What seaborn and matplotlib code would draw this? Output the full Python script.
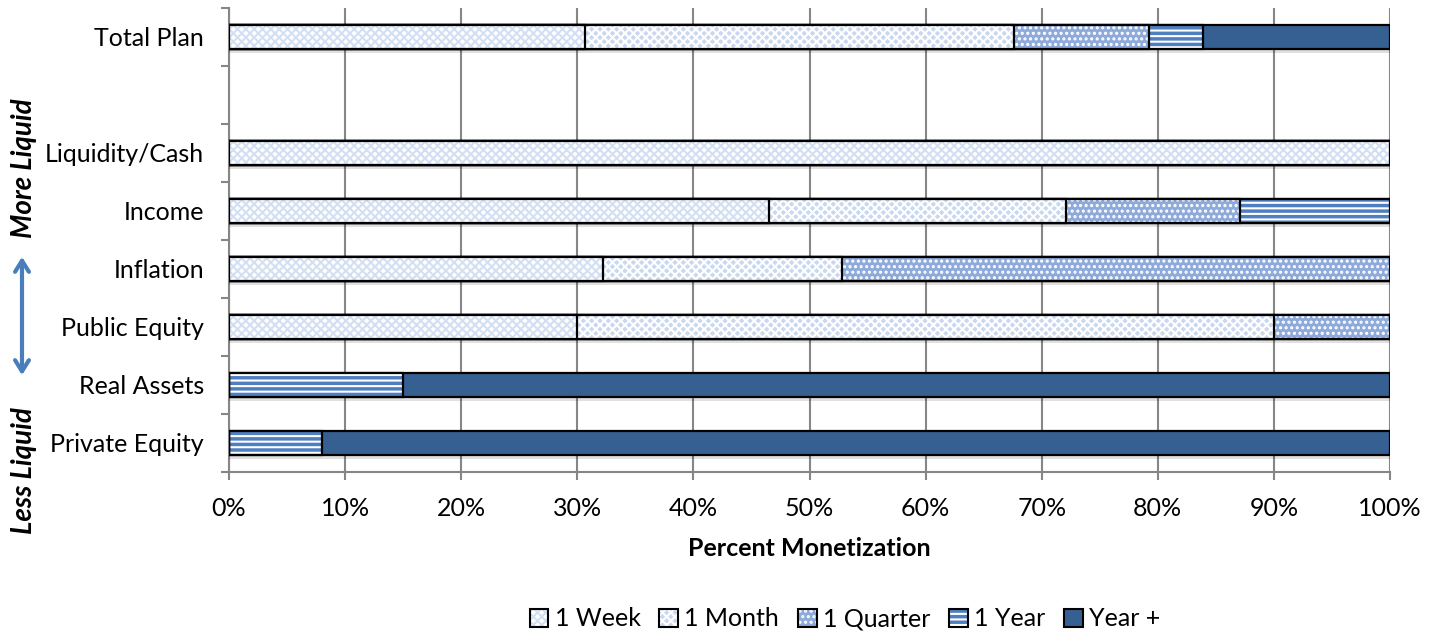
import numpy as np
import pandas as pd
import matplotlib
matplotlib.use("Agg")
import matplotlib.pyplot as plt
import seaborn as sns
from matplotlib.patches import Patch, Rectangle, FancyArrowPatch
from matplotlib.legend_handler import HandlerTuple
from matplotlib.ticker import PercentFormatter, FixedLocator
import matplotlib.patheffects as pe

# ---- data -------------------------------------------------------------
categories = ["Total Plan", " ", "Liquidity/Cash", "Income", "Inflation",
              "Public Equity", "Real Assets", "Private Equity"]
rows = ["Total Plan", "Liquidity/Cash", "Income", "Inflation",
        "Public Equity", "Real Assets", "Private Equity"]
horizons = ["1 Week", "1 Month", "1 Quarter", "1 Year", "Year +"]

one_week    = [30.7, 100.0, 46.5, 32.2, 30.0,  0.0,  0.0]
one_month   = [36.9,   0.0, 25.6, 20.6, 60.0,  0.0,  0.0]
one_quarter = [11.6,   0.0, 15.0, 47.2, 10.0,  0.0,  0.0]
one_year    = [ 4.7,   0.0, 12.9,  0.0,  0.0, 15.0,  8.0]
year_plus   = [16.1,   0.0,  0.0,  0.0,  0.0, 85.0, 92.0]

# ---- styling ----------------------------------------------------------
sns.set_theme(style="white")
plt.rcParams["font.family"] = ["Lato", "DejaVu Sans"]
plt.rcParams["hatch.linewidth"] = 1.5

FS = 18
face_colors  = ["#FFFFFF", "#C9D8EF", "#8EAADB", "#4F7FC1", "#366092"]
hatch_colors = ["#D3DFF2", "#FFFFFF", "#FFFFFF", "#FFFFFF", "#366092"]
hatches      = ["xxxx", "xxxx", "...", "---", None]

series = [one_week, one_month, one_quarter, one_year, year_plus]
cum = np.cumsum(np.array(series), axis=0)
df = pd.DataFrame({"category": rows})
for name, c in zip(horizons, cum):
    df[name] = c

fig = plt.figure(figsize=(14.35, 6.31), dpi=100)
ax = fig.add_axes([229 / 1435, 1 - 472 / 631, 1161 / 1435, 464 / 631])

# stacked bars: cumulative totals, longest drawn first
for i in reversed(range(len(horizons))):
    name = horizons[i]
    n_before = len(ax.patches)
    sns.barplot(data=df, y="category", x=name, order=categories,
                orient="h", width=0.4, color=face_colors[i],
                saturation=1, ax=ax)
    for p in ax.patches[n_before:]:
        z = 3 + (len(horizons) - i) * 0.01
        p.set_facecolor(face_colors[i])
        p.set_linewidth(0)
        if hatches[i]:
            p.set_hatch(hatches[i])
            p.set_edgecolor(hatch_colors[i])
        else:
            p.set_edgecolor(face_colors[i])
        if i == len(horizons) - 1:
            p.set_path_effects([pe.SimplePatchShadow(offset=(0, -3), shadow_rgbFace="#000000",
                                                     alpha=0.12), pe.Normal()])
        p.set_zorder(z)
        ax.add_patch(Rectangle(p.get_xy(), p.get_width(), p.get_height(),
                               fill=False, edgecolor="black", linewidth=1.6,
                               zorder=z + 0.005))

# ---- axes -------------------------------------------------------------
ax.set_xlim(0, 100)
ax.set_ylim(len(categories) - 0.5, -0.5)
ax.xaxis.set_major_locator(FixedLocator(np.arange(0, 101, 10)))
ax.xaxis.set_major_formatter(PercentFormatter(decimals=0))
ax.grid(axis="x", color="#868686", linewidth=1.5, zorder=0)
ax.set_axisbelow(True)

ax.set_yticks(range(len(categories)))
ax.set_yticklabels(categories)
ax.set_yticks(np.arange(-0.5, len(categories), 1), minor=True)
ax.tick_params(axis="y", which="major", length=0, pad=18, labelsize=FS, labelcolor="black")
ax.tick_params(axis="y", which="minor", length=6, width=1.5, color="#868686", left=True)
ax.tick_params(axis="x", which="major", length=6, width=1.5, color="#868686",
               bottom=True, pad=12, labelsize=FS, labelcolor="black")

for s in ["top", "right"]:
    ax.spines[s].set_visible(False)
for s in ["left", "bottom"]:
    ax.spines[s].set_color("#868686")
    ax.spines[s].set_linewidth(1.5)

ax.set_ylabel("")
ax.set_xlabel("Percent Monetization", fontsize=FS, fontweight="bold", labelpad=12,
              color="black")

# ---- side annotations ---------------------------------------------------
fig.text(24 / 1435, 1 - 168 / 631, "More Liquid", rotation=90, ha="center", va="center",
         fontsize=20, fontweight="bold", fontstyle="italic", color="black")
fig.text(24 / 1435, 1 - 471 / 631, "Less Liquid", rotation=90, ha="center", va="center",
         fontsize=20, fontweight="bold", fontstyle="italic", color="black")
fig.add_artist(FancyArrowPatch(
    (22 / 1435, 1 - 378 / 631), (22 / 1435, 1 - 254 / 631), transform=fig.transFigure,
    arrowstyle="<->,head_length=8,head_width=5", color="#4A7EBB", linewidth=3))

# ---- legend -----------------------------------------------------------
handles = []
for i, name in enumerate(horizons):
    fill = Patch(facecolor=face_colors[i], linewidth=0,
                 edgecolor=hatch_colors[i] if hatches[i] else face_colors[i],
                 hatch=hatches[i])
    edge = Patch(fill=False, edgecolor="black", linewidth=1.5)
    handles.append((fill, edge))
fig.legend(handles=handles, labels=horizons, loc="center",
           bbox_to_anchor=(845 / 1435, 1 - 619 / 631),
           handler_map={tuple: HandlerTuple(ndivide=1, pad=0)},
           ncol=5, frameon=False, fontsize=FS, handlelength=0.75, handleheight=0.75,
           handletextpad=0.25, columnspacing=0.75, labelcolor="black")

fig.savefig("out.png", dpi=100)
